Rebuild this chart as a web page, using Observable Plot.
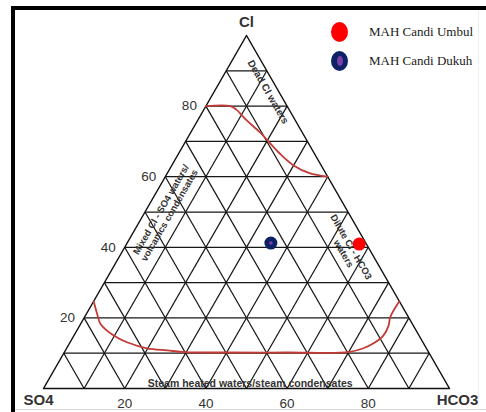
<!DOCTYPE html>
<html>
<head>
<meta charset="utf-8">
<script src="https://cdn.jsdelivr.net/npm/d3@7"></script>
<script src="https://cdn.jsdelivr.net/npm/@observablehq/plot@0.6"></script>
<style>
  html, body { margin: 0; padding: 0; background: #fff; }
  #wrap { position: relative; width: 486px; height: 412px; overflow: hidden; background: #fff; }
  #wrap svg { position: absolute; left: 0; top: 0; }
  .frame { position: absolute; left: 11px; top: 6px; width: 475px; height: 406px;
           border-top: 4px solid #000; border-left: 4px solid #000; box-sizing: border-box; }
  .bottomline { position: absolute; left: 15px; top: 409px; width: 471px; height: 1px; background: #d4d4d4; }
  .rightline { position: absolute; left: 478px; top: 10px; width: 1px; height: 400px; background: #efefef; }
  .lg { position: absolute; font-family: "Liberation Serif", "Times New Roman", serif; font-size: 13px; color: #1a1a1a; white-space: nowrap; line-height: 16px; }
  .sw { position: absolute; width: 17px; height: 20px; border-radius: 50%; }
  .inner { position: absolute; left: 5.5px; top: 5px; width: 6px; height: 10px; border-radius: 50%; background: #7b3fa6; }
</style>
</head>
<body>
<div id="wrap">
  <div class="frame"></div>
  <div class="bottomline"></div>
  <div class="rightline"></div>
</div>
<script>
// ---------- data ----------
const gridLevels = [10, 20, 30, 40, 50, 60, 70, 80, 90];
const clTicks = [20, 40, 60, 80];
const hco3Ticks = [20, 40, 60, 80];

const cornerNames = ["Cl", "SO4", "HCO3"];
const cornerCl = [100, 0, 0];
const cornerHco3 = [0, 0, 100];

// boundary curves: [Cl %, HCO3 %]
const deadClCurve = [[80, 0], [80, 6], [79, 8], [76, 12], [72.6, 17], [70.3, 20], [66.5, 25], [63.2, 30], [61, 35], [60, 40]];
const steamCurve = [[24.7, 0], [21.2, 2.6], [18.3, 4.9], [15, 9.8], [13.1, 14], [11.4, 19.8], [10.8, 25.1], [10.3, 29.8],
                    [10.2, 40], [10.2, 55], [10.3, 70], [11.4, 73.1], [12.8, 74.9], [15, 76.2], [17.8, 76.1], [20.2, 75.3], [24.7, 75.3]];

// samples
const sampleNames = ["MAH Candi Umbul", "MAH Candi Dukuh"];
const sampleCl = [40.9, 41.2];
const sampleHco3 = [57.3, 35.4];
const sampleSo4 = [1.8, 23.4];
const sampleColors = ["#ff0000", "#0c2166"];

// field annotations
const annTexts = ["Dead Cl waters", "Dilute Cl - HCO3", "waters", "Steam heated waters/steam condensates"];
const annCl = [84, 40.1, 38.2, 1.4];
const annHco3 = [13.3, 55.7, 54.8, 50.2];
const annRotate = [60, 60, 60, 0];
const annSize = [10, 9.5, 9.5, 10.5];

const mixTexts = ["Mixed Cl - SO4 waters/", "volcanics condensates"];
const mixCl = [38.2, 36.3];
const mixHco3 = [3.6, 6.5];

// ---------- ternary projection ----------
const S = Math.sqrt(3) / 2;
const tx = (cl, hco3) => (hco3 + cl / 2) / 100;
const ty = (cl) => (cl / 100) * S;

const grid = [];
for (const k of gridLevels) {
  grid.push({x1: tx(k, 0), y1: ty(k), x2: tx(k, 100 - k), y2: ty(k)});
  grid.push({x1: tx(0, k), y1: ty(0), x2: tx(100 - k, k), y2: ty(100 - k)});
  grid.push({x1: tx(0, 100 - k), y1: ty(0), x2: tx(100 - k, 0), y2: ty(100 - k)});
}
const outlinePts = [1, 2, 0, 1].map(i => ({x: tx(cornerCl[i], cornerHco3[i]), y: ty(cornerCl[i])}));

const curves = [
  ...deadClCurve.map(([c, h]) => ({curve: "dead", x: tx(c, h), y: ty(c)})),
  ...steamCurve.map(([c, h]) => ({curve: "steam", x: tx(c, h), y: ty(c)}))
];

const samples = sampleNames.map((n, i) => ({name: n, x: tx(sampleCl[i], sampleHco3[i]), y: ty(sampleCl[i]), color: sampleColors[i], so4: sampleSo4[i]}));
const anns = annTexts.map((t, i) => ({text: t, x: tx(annCl[i], annHco3[i]), y: ty(annCl[i]), rotate: annRotate[i], size: annSize[i]}));
const mix = mixTexts.map((t, i) => ({text: t, x: tx(mixCl[i], mixHco3[i]), y: ty(mixCl[i])}));

const corners = cornerNames.map((n, i) => ({text: n, x: tx(cornerCl[i], cornerHco3[i]), y: ty(cornerCl[i])}));

const chart = Plot.plot({
  width: 486,
  height: 412,
  marginLeft: 43,
  marginRight: 37,
  marginTop: 35,
  marginBottom: 24,
  x: {domain: [0, 1], axis: null},
  y: {domain: [0, S], axis: null},
  style: {background: "transparent", fontFamily: "'Liberation Sans', Arial, sans-serif"},
  marks: [
    Plot.link(grid, {x1: "x1", y1: "y1", x2: "x2", y2: "y2", stroke: "#161616", strokeWidth: 1.25}),
    Plot.line(outlinePts, {x: "x", y: "y", stroke: "#111", strokeWidth: 1.5}),
    Plot.line(curves, {x: "x", y: "y", z: "curve", stroke: "#c33a36", strokeWidth: 1.8, curve: "catmull-rom"}),
    ...anns.map(a => Plot.text([a], {x: "x", y: "y", text: "text", rotate: a.rotate, fontSize: a.size, fontWeight: "bold", fill: "#333"})),
    Plot.text(mix, {x: "x", y: "y", text: "text", rotate: -60, textAnchor: "start", fontSize: 9.5, fontWeight: "bold", fill: "#333"}),
    Plot.dot(samples, {x: "x", y: "y", r: 6.5, fill: "color", stroke: null}),
    Plot.dot(samples.filter(d => d.name === "MAH Candi Dukuh"), {x: "x", y: "y", r: 1.8, fill: "#7b3fa6"}),
    Plot.text(hco3Ticks, {x: d => tx(0, d), y: ty(0), text: d => String(d), dy: 15, fontSize: 13.5, fill: "#333"}),
    Plot.text(clTicks, {x: d => tx(d, 0), y: d => ty(d), text: d => String(d), textAnchor: "end", dx: -9, fontSize: 13.5, fill: "#333"}),
    Plot.text(corners.filter(d => d.text === "Cl"), {x: "x", y: "y", text: "text", dy: -13, fontSize: 15, fontWeight: "bold", fill: "#333"}),
    Plot.text(corners.filter(d => d.text === "SO4"), {x: "x", y: "y", text: "text", dx: -5, dy: 12, fontSize: 15, fontWeight: "bold", fill: "#333"}),
    Plot.text(corners.filter(d => d.text === "HCO3"), {x: "x", y: "y", text: "text", dx: 8, dy: 12, fontSize: 15, fontWeight: "bold", fill: "#333"})
  ]
});

const wrap = document.getElementById("wrap");
wrap.insertBefore(chart, wrap.firstChild);

// legend (HTML overlay, top-right)
const legendTops = [22, 51];
sampleNames.forEach((n, i) => {
  const sw = document.createElement("div");
  sw.className = "sw";
  sw.style.left = "331px";
  sw.style.top = legendTops[i] + "px";
  sw.style.background = sampleColors[i];
  if (i === 1) {
    const inner = document.createElement("div");
    inner.className = "inner";
    sw.appendChild(inner);
  }
  wrap.appendChild(sw);
  const t = document.createElement("div");
  t.className = "lg";
  t.textContent = n;
  t.style.left = "369px";
  t.style.top = (legendTops[i] + 2) + "px";
  wrap.appendChild(t);
});
</script>
</body>
</html>
